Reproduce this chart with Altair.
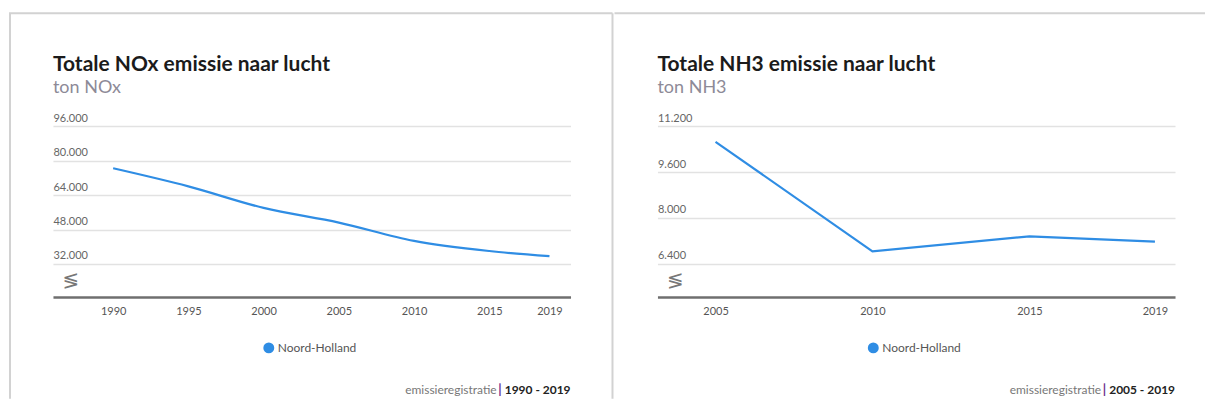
import altair as alt
import pandas as pd

# ---------------- data ----------------
region = "Noord-Holland"

nox_years = [1990, 1995, 2000, 2005, 2010, 2015, 2019]
nox_values = [76400, 68000, 58000, 51200, 42700, 38000, 35600]

nh3_years = [2005, 2010, 2015, 2019]
nh3_values = [10650, 6840, 7360, 7180]

nox_yticks = [32000, 48000, 64000, 80000, 96000]
nh3_yticks = [6400, 8000, 9600, 11200]
nox_xticks = [1990, 1995, 2000, 2005, 2010, 2015, 2019]
nh3_xticks = [2005, 2010, 2015, 2019]

nox_title = "Totale NOx emissie naar lucht"
nox_sub = "ton NOx"
nox_period = "1990 - 2019"
nh3_title = "Totale NH3 emissie naar lucht"
nh3_sub = "ton NH3"
nh3_period = "2005 - 2019"
source = "emissieregistratie"

# ---------------- style ----------------
BLUE = "#2f8de4"
FRAME = "#d2d2d2"
FONT = "Lato"
W, H = 518, 171

one = pd.DataFrame({"k": [0]})


def rule(x, x2, y, y2, color, w):
    return alt.Chart(one).mark_rule(color=color, strokeWidth=w).encode(
        x=alt.value(x), x2=alt.value(x2), y=alt.value(y), y2=alt.value(y2)
    )


def text(txt, x, y, size, color, weight="normal", align="left",
         baseline="alphabetic", font=FONT):
    return alt.Chart(pd.DataFrame({"t": [txt]})).mark_text(
        align=align, baseline=baseline, fontSize=size, font=font,
        fontWeight=weight, color=color
    ).encode(x=alt.value(x), y=alt.value(y), text="t:N")


def panel(years, values, xdom, ydom, yticks, xticks, title, sub, period,
          interp, left_end, right_end, left_frame):
    df = pd.DataFrame({"jaar": years, "waarde": values,
                       "regio": [region] * len(years)})
    line = alt.Chart(df).mark_line(strokeWidth=2.2, interpolate=interp).encode(
        x=alt.X("jaar:Q",
                scale=alt.Scale(domain=xdom, nice=False, zero=False),
                axis=alt.Axis(values=xticks, format="d", grid=False,
                              ticks=False, domain=True, domainColor="#6f6f6f",
                              domainWidth=2.5, labelPadding=9,
                              labelFontSize=11, labelColor="#555555",
                              labelFont=FONT, title=None, labelFlush=False)),
        y=alt.Y("waarde:Q",
                scale=alt.Scale(domain=ydom, nice=False, zero=False),
                axis=alt.Axis(values=yticks, grid=True, gridColor="#e2e2e2",
                              gridWidth=1.5, ticks=False, domain=False,
                              labelAlign="left", labelBaseline="alphabetic",
                              labelPadding=0, labelOffset=-5,
                              labelExpr="replace(format(datum.value, ',d'), ',', '.')",
                              labelFontSize=11, labelColor="#666666",
                              labelFont=FONT, title=None, labelFlush=False)),
        color=alt.Color("regio:N", scale=alt.Scale(range=[BLUE]),
                        legend=alt.Legend(orient="none", legendX=210,
                                          legendY=216, title=None,
                                          symbolType="circle",
                                          symbolSize=120,
                                          symbolFillColor=BLUE,
                                          symbolStrokeWidth=0,
                                          labelFontSize=12, labelFont=FONT,
                                          labelColor="#555555",
                                          labelOffset=3, padding=0)),
    )
    layers = [
        # white anchor that fixes the panel bounds
        rule(left_end, right_end, -117.5, -117.5, "white", 1),
        # frame
        rule(left_end, right_end, -113, -113, FRAME, 2),
    ]
    if left_frame:
        layers.append(rule(-43, -43, -113, 273, FRAME, 2))
        layers.append(rule(560, 560, -113, 273, FRAME, 2))
    layers += [
        text(title, 0, -55, 21, "#1b1b1b", weight="bold"),
        text(sub, 0, -33, 18, "#8d8a97"),
        text("\u2276", 18, 155, 20, "#777777", align="center",
             baseline="middle", font="DejaVu Sans"),
        text(period, 518, 268, 12, "#222222", weight="bold",
             align="right"),
        text("|", 518 - 69, 268, 13, "#6a2c8e", weight="bold",
             align="right"),
        text(source, 518 - 74, 268, 12, "#777777", align="right"),
        line,
    ]
    return alt.layer(*layers).properties(width=W, height=H)


left = panel(nox_years, nox_values, [1986.0, 2020.4], [16700, 96000],
             nox_yticks, nox_xticks, nox_title, nox_sub, nox_period,
             "monotone", -44, 560, True)
right = panel(nh3_years, nh3_values, [2003.15, 2019.64], [5252, 11200],
              nh3_yticks, nh3_xticks, nh3_title, nh3_sub, nh3_period,
              "linear", -43, 548, False)

chart = (
    alt.hconcat(left, right, spacing=0)
    .resolve_scale(color="independent", x="independent", y="independent")
    .resolve_legend(color="independent")
    .properties(padding=0)
    .configure_view(stroke=None)
)

chart.save("out.html", embed_options={"renderer": "svg", "actions": False})
